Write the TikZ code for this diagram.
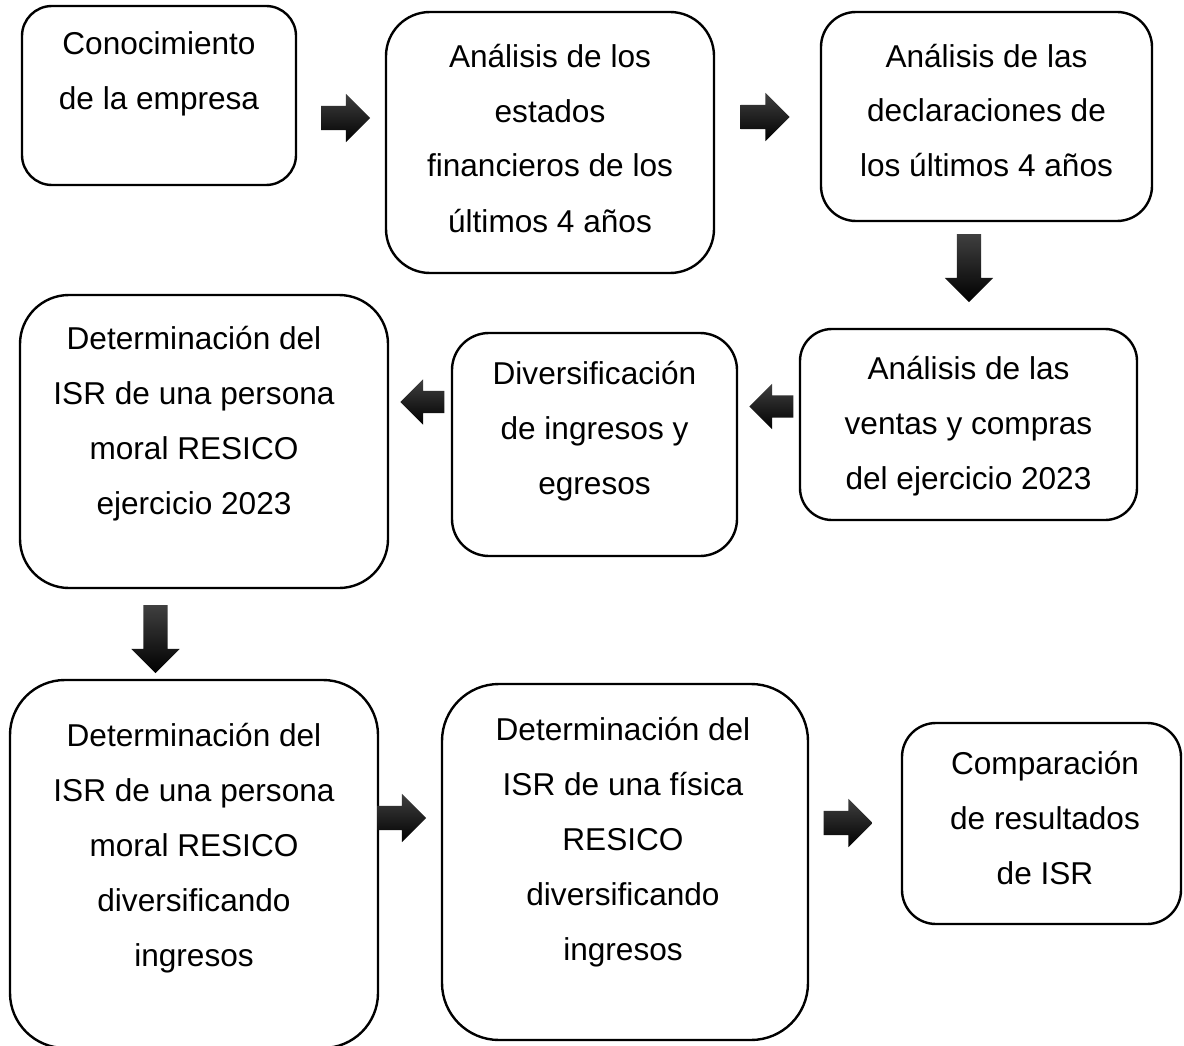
\documentclass[tikz,border=0pt]{standalone}
\usepackage{fontspec}
\setmainfont{Liberation Sans}
\usetikzlibrary{shapes.arrows}

\tikzset{
  caja/.style={draw, line width=2.4pt, fill=white},
  texto/.style={align=center, anchor=base, inner sep=0pt,
    font=\fontsize{31.6}{55}\selectfont},
  flecha/.style={single arrow, draw=none, inner sep=12pt,
    top color=black!75, bottom color=black,
    single arrow head extend=12pt, single arrow head indent=0pt,
    minimum height=49pt}
}

\begin{document}
\begin{tikzpicture}[x=1pt,y=-1pt]
  \useasboundingbox (0,0) rectangle (1184,1046);
  % Cajas del proceso
  \node[caja, minimum width=274pt, minimum height=179pt, rounded corners=30pt] (c1) at (159,95.5) {};
  \node[caja, minimum width=328pt, minimum height=261pt, rounded corners=44pt] (c2) at (550,142.5) {};
  \node[caja, minimum width=331pt, minimum height=209pt, rounded corners=35pt] (c3) at (986.5,116.5) {};
  \node[caja, minimum width=337pt, minimum height=191pt, rounded corners=32pt] (c4) at (968.5,424.5) {};
  \node[caja, minimum width=285pt, minimum height=223pt, rounded corners=37pt] (c5) at (594.5,444.5) {};
  \node[caja, minimum width=368pt, minimum height=293pt, rounded corners=49pt] (c6) at (204,441.5) {};
  \node[caja, minimum width=368pt, minimum height=368pt, rounded corners=55pt] (c7) at (194,864) {};
  \node[caja, minimum width=366pt, minimum height=356pt, rounded corners=57pt] (c8) at (625,862) {};
  \node[caja, minimum width=279pt, minimum height=201pt, rounded corners=34pt] (c9) at (1041.5,823.5) {};

  % Textos (la base es la de la ultima linea)
  \node[texto] (t1) at (159,110) {Conocimiento\\de la empresa};
  \node[texto] (t2) at (550,232) {Análisis de los\\estados\\financieros de los\\últimos 4 años};
  \node[texto] (t3) at (986.5,177) {Análisis de las\\declaraciones de\\los últimos 4 años};
  \node[texto] (t4) at (968.5,489) {Análisis de las\\ventas y compras\\del ejercicio 2023};
  \node[texto] (t5) at (594.5,494) {Diversificación\\de ingresos y\\egresos};
  \node[texto] (t6) at (194,514) {Determinación del\\ISR de una persona\\moral RESICO\\ejercicio 2023};
  \node[texto] (t7) at (194,966) {Determinación del\\ISR de una persona\\moral RESICO\\diversificando\\ingresos};
  \node[texto] (t8) at (623,960) {Determinación del\\ISR de una física\\RESICO\\diversificando\\ingresos};
  \node[texto] (t9) at (1045,884) {Comparación\\de resultados\\de ISR};

  % Flechas
  \node[flecha] (f12) at (339.5,118) {};
  \node[flecha] (f23) at (759,117) {};
  \node[flecha, shape border rotate=270, minimum height=68pt] (f34) at (969,262) {};
  \node[flecha, shape border rotate=180, minimum height=44pt, inner sep=11pt,
    single arrow head extend=11.5pt] (f45) at (777,406.5) {};
  \node[flecha, shape border rotate=180, minimum height=44pt, inner sep=11pt,
    single arrow head extend=11.5pt] (f56) at (428,402) {};
  \node[flecha, shape border rotate=270, minimum height=68pt] (f67) at (155.5,633) {};
  \node[flecha] (f78) at (395.5,818) {};
  \node[flecha] (f89) at (842,823) {};
\end{tikzpicture}
\end{document}
